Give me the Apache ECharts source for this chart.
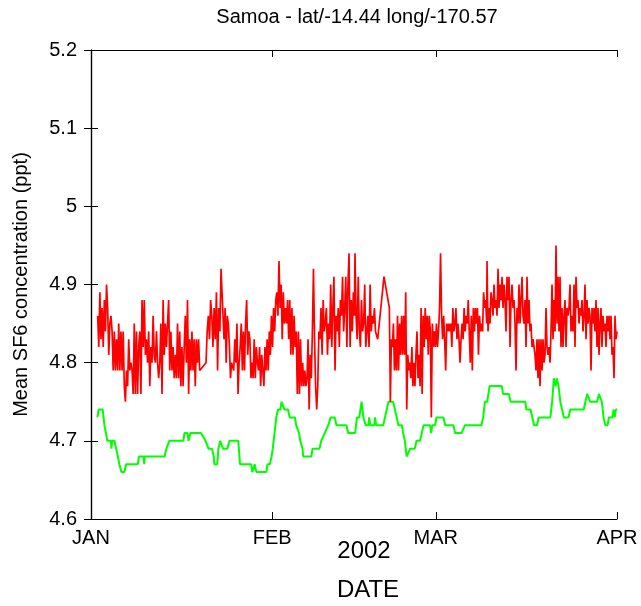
<!DOCTYPE html>
<html>
<head>
<meta charset="utf-8">
<script src="https://cdn.jsdelivr.net/npm/echarts@6/dist/echarts.min.js"></script>
<style>
html,body{margin:0;padding:0;background:#fff;}
#chart{width:641px;height:606px;}
</style>
</head>
<body>
<div id="chart"></div>
<script>
// ---- data ----
const titleText = 'Samoa - lat/-14.44 long/-170.57';
const yTicks = [4.6, 4.7, 4.8, 4.9, 5.0, 5.1, 5.2];
const monthDays = [0, 31, 59, 90];            // days since 1 Jan 2002
const monthLabels = ['JAN', 'FEB', 'MAR', 'APR'];

// red series (individual measurements), read in runs of roughly evenly spaced samples
const redJanA = [4.86,4.82,4.89,4.83,4.87,4.82,4.88,4.84,4.90,4.87,4.81,4.85,4.86,4.84,4.79,4.84,4.79,4.83,4.79,4.85,
 4.79,4.84,4.79,4.84,4.77,4.75,4.79,4.77,4.83,4.79,4.80,4.79,4.76,4.85,4.76,4.84,4.76,4.82,4.84,4.76,
 4.88,4.82,4.88,4.81,4.83,4.80,4.84,4.77,4.82,4.80,4.86,4.81,4.80,4.84,4.80,4.78,4.80,4.85,4.76,4.88,
 4.81,4.85,4.82,4.85,4.88,4.79,4.84,4.79,4.82,4.78,4.81,4.78,4.85,4.78,4.84,4.77,4.82,4.77,4.82,4.86,
 4.80,4.88,4.76,4.83,4.79,4.84,4.79,4.83,4.77,4.83,4.80,4.83,4.79];
const redJanB = [4.80,4.84,4.86,4.83,4.88,4.86,4.82,4.87,4.83,4.89,4.79,4.87,4.84,4.92];
const redFebA = [4.83,4.87,4.80,4.86,4.85,4.82,4.78,4.80,4.80,4.79,4.83,4.80,4.85,4.76,4.80,4.82,4.85,4.79,4.84,4.79,
 4.85,4.88,4.81,4.84,4.83,4.78,4.80,4.78,4.83,4.78,4.82,4.80,4.79,4.82,4.77,4.81,4.79,4.77,4.82,4.79,
 4.83,4.79,4.84,4.81,4.86,4.82,4.87,4.84,4.88,4.89,4.86,4.93,4.87,4.90,4.83,4.89,4.85,4.87,4.85,4.88,
 4.83,4.88,4.81,4.87,4.81,4.86,4.82,4.84,4.76,4.84,4.76,4.83,4.77,4.80,4.77,4.79,4.77,4.78,4.83,4.74,
 4.81,4.78,4.84,4.92,4.83,4.77,4.74,4.77,4.84,4.83,4.87,4.81,4.88,4.84,4.85,4.87,4.81,4.85,4.83,4.90,
 4.82,4.87,4.91,4.79,4.86,4.84,4.87,4.82,4.88,4.86,4.91,4.84,4.87,4.91,4.82,4.90,4.94,4.82,4.88,4.84,
 4.89,4.86];
const redFebB = [4.94,4.86,4.83,4.91,4.84,4.82,4.88,4.84,4.85,4.90,4.82,4.84,4.86,4.82,4.90,4.84,4.86,4.85,4.87,4.84,4.84,4.83];
const redFebC = [4.91,4.87];
const redMarA = [4.75,4.83,4.82,4.85,4.79,4.83,4.79,4.86,4.79,4.85,4.81,4.86,4.81,4.86,4.81,4.89,4.74,4.81,4.79,4.80,
 4.78,4.82,4.77,4.80,4.77,4.81,4.84,4.78,4.81,4.77,4.87,4.76,4.86,4.82,4.87,4.83,4.86,4.81,4.86,4.84,
 4.73,4.85,4.82,4.84,4.82,4.85,4.82,4.84,4.87,4.94,4.86,4.83,4.86,4.83,4.79,4.85,4.84,4.85,4.84,4.85,
 4.82,4.87,4.84,4.85,4.87,4.83,4.85,4.83,4.80,4.83,4.85,4.83,4.87,4.84,4.86,4.85,4.88,4.84,4.80,4.86,
 4.79,4.87,4.84,4.87,4.85,4.87,4.81,4.86,4.84,4.85,4.84,4.89,4.87,4.88,4.85];
const redMarB = [4.93,4.84,4.87,4.85,4.89,4.88,4.86,4.90,4.87,4.88,4.86,4.92,4.87,4.90,4.88,4.91,4.87,4.90,4.88,4.84,
 4.91,4.88,4.91,4.82,4.88,4.90,4.87,4.88,4.85,4.79,4.87,4.85,4.90,4.85,4.88,4.91,4.86,4.85,4.88,4.82,
 4.91,4.85,4.88,4.84,4.85,4.82,4.83,4.82,4.81,4.79,4.83,4.78,4.83,4.77,4.83,4.79,4.83,4.80,4.81,4.87,
 4.82,4.81,4.82,4.80,4.84,4.90,4.83,4.88,4.84,4.95,4.85,4.91,4.84,4.91,4.82,4.87,4.82,4.86,4.88,4.82,
 4.87,4.86,4.87,4.90,4.84,4.86,4.84,4.90,4.82,4.91,4.87,4.88,4.85,4.87,4.86,4.88,4.84,4.86,4.90,4.83,
 4.88,4.85,4.87,4.86,4.79,4.87,4.85,4.87,4.84,4.88,4.82,4.87,4.81,4.85,4.87,4.82,4.86,4.84,4.85,4.82,
 4.86,4.84,4.86,4.83,4.86,4.81,4.82,4.78,4.86,4.83,4.84];
// [first day, last day] of each run
const redRunDays = [[1.14,18.60],[19.68,22.25],[22.76,45.07],[45.17,49.05],[50.13,51.05],[51.22,67.70],[67.76,90.0]];
const redRuns = [redJanA, redJanB, redFebA, redFebB, redFebC, redMarA, redMarB];

// green series (smoothed)
const greenDays = [1.1,1.3,2.0,2.3,2.8,3.4,3.5,3.6,4.0,4.3,4.6,4.85,5.2,5.7,6.0,8.0,8.2,9.0,9.1,9.2,
 12.6,12.9,13.4,15.8,16.0,16.5,16.7,17.0,18.8,19.6,20.1,20.7,21.0,21.1,21.6,21.8,22.1,22.4,22.6,23.3,
 23.7,25.2,25.5,27.4,27.6,27.8,28.0,28.3,30.0,30.2,30.6,30.9,31.1,31.4,31.7,32.0,32.4,32.6,32.9,33.1,
 33.7,34.0,34.9,35.1,35.6,35.8,36.2,36.3,37.7,37.9,39.1,39.4,40.0,40.6,41.0,41.7,42.0,43.7,44.0,45.2,
 45.5,45.9,46.3,46.6,46.9,47.0,47.5,47.6,47.8,48.5,48.6,48.8,50.0,50.3,50.6,50.9,51.7,52.0,52.3,52.6,
 53.2,53.4,53.7,54.0,54.3,54.6,55.4,55.7,56.3,56.6,56.9,58.0,58.2,58.4,58.9,59.1,60.3,60.6,62.0,62.3,
 63.4,64.0,66.8,67.1,67.4,67.8,68.2,70.3,70.5,71.5,71.8,74.3,74.5,75.2,75.5,75.8,76.3,76.6,78.6,78.9,
 79.2,79.5,79.7,80.0,80.3,80.6,80.9,81.7,82.0,84.3,84.6,84.9,85.2,85.4,86.6,86.9,87.2,87.4,87.7,88.0,
 88.4,88.6,89.2,89.4,89.6,89.8,90.0];
const greenVals = [4.73,4.74,4.74,4.72,4.70,4.70,4.69,4.70,4.70,4.69,4.68,4.67,4.66,4.66,4.67,4.67,4.68,4.68,4.67,4.68,
 4.68,4.69,4.70,4.70,4.71,4.71,4.70,4.71,4.71,4.70,4.69,4.69,4.68,4.67,4.67,4.69,4.70,4.70,4.69,4.69,
 4.70,4.70,4.67,4.67,4.66,4.66,4.67,4.66,4.66,4.67,4.67,4.68,4.69,4.71,4.73,4.74,4.74,4.75,4.75,4.74,
 4.74,4.73,4.73,4.72,4.71,4.70,4.69,4.68,4.68,4.69,4.69,4.70,4.71,4.72,4.73,4.73,4.72,4.72,4.71,4.71,
 4.73,4.73,4.75,4.73,4.73,4.72,4.72,4.73,4.72,4.72,4.73,4.72,4.72,4.73,4.74,4.75,4.75,4.74,4.73,4.72,
 4.72,4.71,4.70,4.68,4.68,4.69,4.69,4.70,4.70,4.71,4.72,4.72,4.71,4.72,4.72,4.73,4.73,4.72,4.72,4.71,
 4.71,4.72,4.72,4.73,4.75,4.75,4.77,4.77,4.76,4.76,4.75,4.75,4.74,4.74,4.73,4.72,4.72,4.73,4.73,4.75,
 4.78,4.77,4.78,4.77,4.75,4.74,4.73,4.73,4.74,4.74,4.75,4.76,4.76,4.75,4.75,4.76,4.76,4.75,4.73,4.72,
 4.72,4.73,4.73,4.74,4.73,4.74,4.74];

// ---- build series data ----
const redData = [];
redRuns.forEach((vals, r) => {
  const [d0, d1] = redRunDays[r];
  const n = vals.length;
  vals.forEach((v, i) => {
    const d = n > 1 ? d0 + (d1 - d0) * i / (n - 1) : d0;
    redData.push([d, v]);
  });
});
const greenData = greenDays.map((d, i) => [d, greenVals[i]]);

const FONT = 'Liberation Sans, Arial, sans-serif';
const chart = echarts.init(document.getElementById('chart'), null, {renderer: 'canvas'});
const frame = {show: true, lineStyle: {color: '#000', width: 1.2}};
chart.setOption({
  animation: false,
  backgroundColor: '#fff',
  title: {show: false},
  grid: {left: 91, right: 24, top: 50, bottom: 87},
  xAxis: [{
    type: 'value', min: 0, max: 90, position: 'bottom',
    axisLine: frame,
    axisTick: {show: true, inside: true, length: 7, lineStyle: {color: '#000'}, customValues: monthDays},
    axisLabel: {show: true, customValues: monthDays, margin: 9,
      formatter: v => monthLabels[monthDays.indexOf(v)] || '',
      fontFamily: FONT, fontSize: 20, color: '#000'},
    splitLine: {show: false}
  }, {
    type: 'value', min: 0, max: 90, position: 'top',
    axisLine: frame,
    axisTick: {show: true, inside: true, length: 7, lineStyle: {color: '#000'}, customValues: monthDays},
    axisLabel: {show: false},
    splitLine: {show: false}
  }],
  yAxis: [{
    type: 'value', min: 4.6, max: 5.2, interval: 0.1, position: 'left',
    name: 'Mean SF6 concentration (ppt)', nameLocation: 'middle', nameGap: 60, nameRotate: 90,
    nameTextStyle: {fontFamily: FONT, fontSize: 20, color: '#000'},
    axisLine: frame,
    axisTick: {show: true, inside: true, length: 7, lineStyle: {color: '#000'}},
    axisLabel: {margin: 14, fontFamily: FONT, fontSize: 20, color: '#000',
      formatter: v => String(Math.round(v * 10) / 10)},
    splitLine: {show: false}
  }, {
    type: 'value', min: 4.6, max: 5.2, interval: 0.1, position: 'right',
    axisLine: frame,
    axisTick: {show: true, inside: true, length: 7, lineStyle: {color: '#000'}},
    axisLabel: {show: false},
    splitLine: {show: false}
  }],
  graphic: [
    {type: 'text', x: 357, y: 7, style: {text: titleText, font: '20px ' + FONT, fill: '#000', textAlign: 'center'}},
    {type: 'text', x: 364, y: 539, style: {text: '2002', font: '24px ' + FONT, fill: '#000', textAlign: 'center'}},
    {type: 'text', x: 368, y: 578, style: {text: 'DATE', font: '24px ' + FONT, fill: '#000', textAlign: 'center'}}
  ],
  series: [{
    type: 'line', data: greenData, xAxisIndex: 0, yAxisIndex: 0,
    symbol: 'none', lineStyle: {color: '#00ff00', width: 2}, z: 2
  }, {
    type: 'line', data: redData, xAxisIndex: 0, yAxisIndex: 0,
    symbol: 'none', lineStyle: {color: '#ff0000', width: 1.7}, z: 3
  }]
});
</script>
</body>
</html>
